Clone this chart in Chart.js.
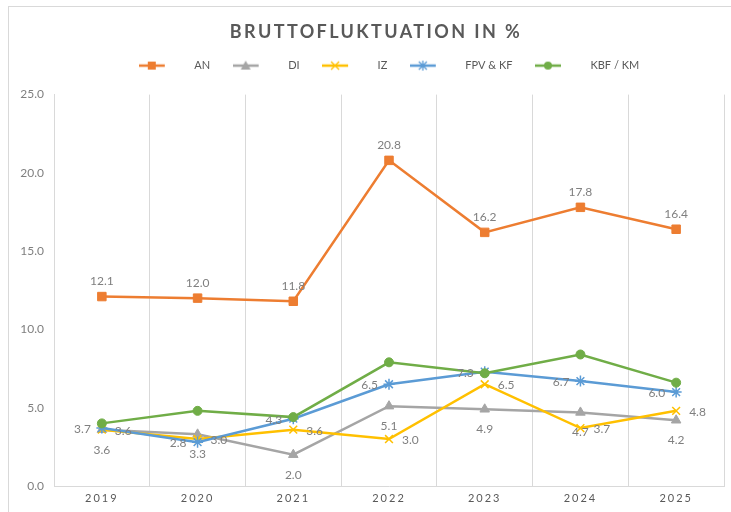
<!DOCTYPE html>
<html>
<head>
<meta charset="utf-8">
<script src="https://cdn.jsdelivr.net/npm/chart.js@4.4.1/dist/chart.umd.min.js"></script>
<style>
    body { margin: 0; background: #fff; overflow: hidden; }
    #rahmen { position: absolute; left: 8px; top: 6px; width: 800px; height: 600px; border: 1px solid #d9d9d9; }
    #box { position: absolute; left: 0; top: 0; width: 731px; height: 512px; }
</style>
</head>
<body>
<div id="rahmen"></div>
<div id="box"><canvas id="grafik"></canvas></div>
<script>
// Daten
const jahre = ["2019", "2020", "2021", "2022", "2023", "2024", "2025"];
const werteAN = [12.1, 12.0, 11.8, 20.8, 16.2, 17.8, 16.4];
const werteDI = [3.6, 3.3, 2.0, 5.1, 4.9, 4.7, 4.2];
const werteIZ = [3.6, 3.0, 3.6, 3.0, 6.5, 3.7, 4.8];
const werteFPV = [3.7, 2.8, 4.3, 6.5, 7.3, 6.7, 6.0];
const werteKBF = [4.0, 4.8, 4.4, 7.9, 7.2, 8.4, 6.6];
const yTicks = [0, 5, 10, 15, 20, 25];

const GRAU_TEXT = "#595959";
const GRAU_LABEL = "#7f7f7f";
const GRAU_LINIE = "#d9d9d9";

// kleines Bild für die Legende: Linie mit Marker in der Mitte
function legendBild(farbe, stil) {
    const c = document.createElement("canvas");
    c.width = 50;
    c.height = 14;
    const g = c.getContext("2d");
    g.strokeStyle = farbe;
    g.fillStyle = farbe;
    g.lineWidth = 2.5;
    g.beginPath();
    g.moveTo(0, 7);
    g.lineTo(26, 7);
    g.stroke();
    const x = 13, y = 7;
    g.lineWidth = 1.3;
    g.beginPath();
    if (stil === "rect") {
        g.fillRect(x - 4, y - 4, 8, 8);
    } else if (stil === "triangle") {
        g.moveTo(x, y - 5);
        g.lineTo(x + 5, y + 4);
        g.lineTo(x - 5, y + 4);
        g.closePath();
        g.fill();
    } else if (stil === "crossRot") {
        g.moveTo(x - 4, y - 4); g.lineTo(x + 4, y + 4);
        g.moveTo(x + 4, y - 4); g.lineTo(x - 4, y + 4);
        g.stroke();
    } else if (stil === "star") {
        g.moveTo(x - 4, y - 4); g.lineTo(x + 4, y + 4);
        g.moveTo(x + 4, y - 4); g.lineTo(x - 4, y + 4);
        g.moveTo(x, y - 5); g.lineTo(x, y + 5);
        g.stroke();
    } else {
        g.arc(x, y, 4, 0, Math.PI * 2);
        g.fill();
    }
    return c;
}

function serie(label, daten, farbe, stil, radius, lage, reihenfolge) {
    return {
        label: label,
        data: daten,
        borderColor: farbe,
        backgroundColor: farbe,
        borderWidth: 2.5,
        pointStyle: stil,
        pointRadius: radius,
        pointHoverRadius: radius,
        pointBorderWidth: (stil === "star" || stil === "crossRot") ? 1.5 : 1,
        pointBackgroundColor: farbe,
        pointBorderColor: farbe,
        tension: 0,
        lage: lage,
        order: reihenfolge,
        legendBild: legendBild(farbe, stil),
    };
}

// Werte an die Punkte schreiben
const wertePlugin = {
    id: "werte",
    afterInit(chart) {
        // Titel mit Sperrung zeichnen, leicht nach rechts (Mitte des Rahmens)
        const tb = chart.titleBlock;
        if (tb) {
            const orig = tb.draw.bind(tb);
            tb.draw = function () {
                chart.ctx.save();
                chart.ctx.letterSpacing = "2.4px";
                chart.ctx.translate(11, 0);
                orig();
                chart.ctx.restore();
            };
        }
        // etwas mehr Abstand unter der Legende
        const lg = chart.legend;
        if (lg) {
            const origFit = lg.fit.bind(lg);
            lg.fit = function () {
                origFit();
                this.height += 13.5;
            };
        }
    },
    afterDatasetsDraw(chart) {
        const ctx = chart.ctx;
        ctx.save();
        ctx.font = "12px Lato";
        ctx.fillStyle = GRAU_LABEL;
        ctx.textBaseline = "middle";
        chart.data.datasets.forEach((ds, i) => {
            if (!ds.lage) return;
            chart.getDatasetMeta(i).data.forEach((pt, j) => {
                const txt = ds.data[j].toFixed(1);
                if (ds.lage === "oben") {
                    ctx.textAlign = "center";
                    ctx.fillText(txt, pt.x, pt.y - 15);
                } else if (ds.lage === "unten") {
                    ctx.textAlign = "center";
                    ctx.fillText(txt, pt.x, pt.y + 20);
                } else if (ds.lage === "rechts") {
                    ctx.textAlign = "left";
                    ctx.fillText(txt, pt.x + 13, pt.y + 1);
                } else {
                    ctx.textAlign = "right";
                    ctx.fillText(txt, pt.x - 11, pt.y + 1);
                }
            });
        });
        ctx.restore();
        // die Jahreszahlen (z: 1) werden danach gesperrt gezeichnet
        ctx.letterSpacing = "2px";
    },
    afterDraw(chart) {
        chart.ctx.letterSpacing = "0px";
    },
};

const ctx = document.getElementById("grafik").getContext("2d");
const grafik = new Chart(ctx, {
    type: "line",
    data: {
        labels: jahre,
        datasets: [
            serie("AN", werteAN, "#ED7D31", "rect", 6, "oben", 5),
            serie("DI", werteDI, "#A5A5A5", "triangle", 5.5, "unten", 4),
            serie("IZ", werteIZ, "#FFC000", "crossRot", 5.5, "rechts", 3),
            serie("FPV & KF", werteFPV, "#5B9BD5", "star", 5.5, "links", 2),
            serie("KBF / KM", werteKBF, "#70AD47", "circle", 4.5, null, 1),
        ],
    },
    options: {
        responsive: true,
        maintainAspectRatio: false,
        animation: false,
        layout: { padding: { left: 0, right: 1, top: 0, bottom: 0 } },
        plugins: {
            tooltip: { enabled: false },
            title: {
                display: true,
                text: "BRUTTOFLUKTUATION IN %",
                color: GRAU_TEXT,
                font: { family: "Lato", size: 18, weight: "bold" },
                padding: { top: 21, bottom: -5 },
            },
            legend: {
                display: true,
                fullSize: false,
                labels: {
                    usePointStyle: true,
                    pointStyleWidth: 50,
                    padding: 22.5,
                    color: GRAU_TEXT,
                    font: { family: "Lato", size: 11 },
                    generateLabels: (chart) =>
                        chart.data.datasets.map((ds, i) => ({
                            text: ds.label,
                            pointStyle: ds.legendBild,
                            fillStyle: ds.borderColor,
                            strokeStyle: ds.borderColor,
                            lineWidth: 0,
                            fontColor: GRAU_TEXT,
                            hidden: !chart.isDatasetVisible(i),
                            datasetIndex: i,
                        })),
                },
            },
        },
        scales: {
            x: {
                offset: true,
                grid: { offset: true, color: GRAU_LINIE, drawTicks: false },
                border: { color: GRAU_LINIE },
                ticks: {
                    z: 1,
                    padding: 6,
                    color: GRAU_TEXT,
                    font: { family: "Lato", size: 11 },
                },
                afterFit: (s) => { s.height = 26; },
            },
            y: {
                min: 0,
                max: 25,
                grid: { display: false, drawTicks: false },
                border: { display: true, color: GRAU_LINIE },
                afterBuildTicks: (s) => { s.ticks = yTicks.map((v) => ({ value: v })); },
                ticks: {
                    padding: 10,
                    color: GRAU_LABEL,
                    font: { family: "Lato", size: 12 },
                    callback: (v) => Number(v).toFixed(1),
                },
                afterFit: (s) => { s.width = 54; },
            },
        },
    },
    plugins: [wertePlugin],
});
</script>
</body>
</html>
